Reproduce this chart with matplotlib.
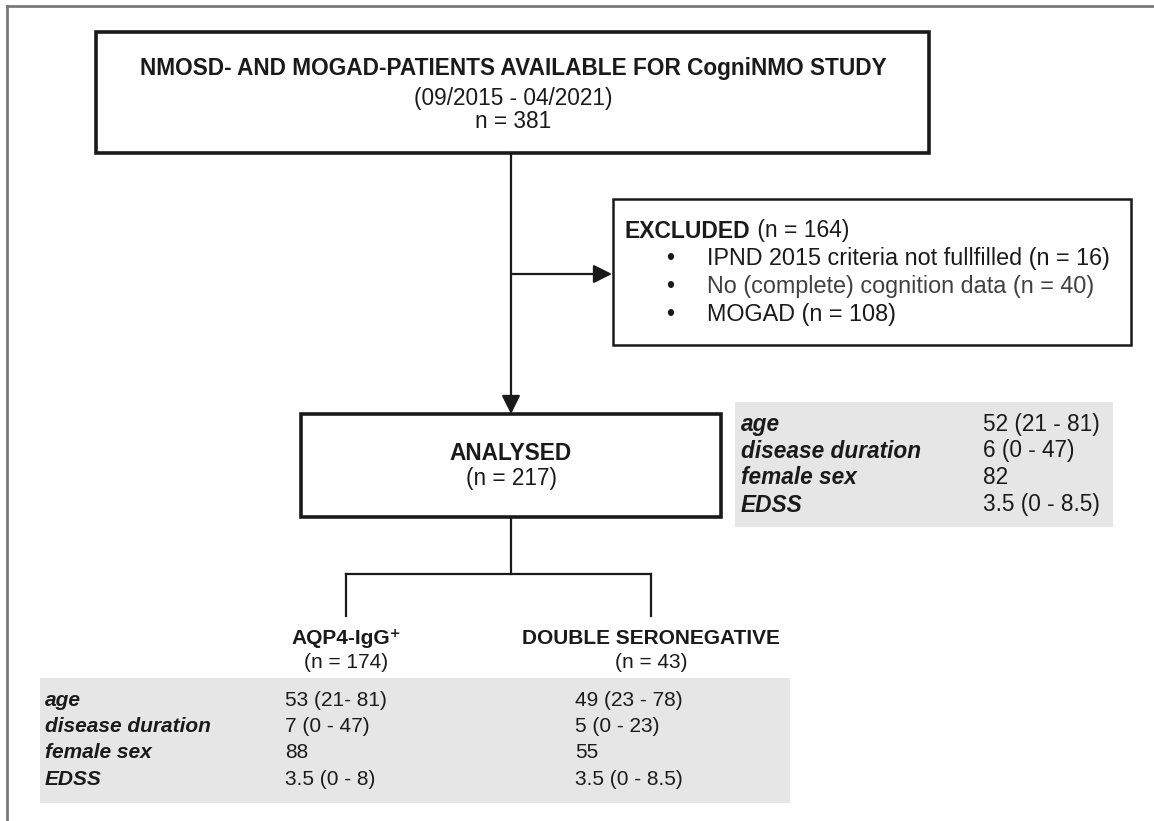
import matplotlib
matplotlib.use('Agg')
import matplotlib.pyplot as plt
from matplotlib.patches import Rectangle

# flow numbers
screened_title = 'NMOSD- AND MOGAD-PATIENTS AVAILABLE FOR CogniNMO STUDY'
screened_period = '(09/2015 - 04/2021)'
screened_n = 381
excluded_reasons = ['IPND 2015 criteria not fullfilled',
                    'No (complete) cognition data',
                    'MOGAD']
excluded_counts = [16, 40, 108]
analysed_n = 217
group_names = ['AQP4-IgG\u207a', 'DOUBLE SERONEGATIVE']
group_counts = [174, 43]

# baseline characteristics
char_labels = ['age', 'disease duration', 'female sex', 'EDSS']
char_all = ['52 (21 - 81)', '6 (0 - 47)', '82', '3.5 (0 - 8.5)']
char_aqp4 = ['53 (21- 81)', '7 (0 - 47)', '88', '3.5 (0 - 8)']
char_dn = ['49 (23 - 78)', '5 (0 - 23)', '55', '3.5 (0 - 8.5)']

plt.rcParams['font.family'] = ['Liberation Sans', 'DejaVu Sans']
FS = 16.3
FS_LOW = 15
INK = '#1a1a1a'
GREY = '#e6e6e6'

fig = plt.figure(figsize=(11.54, 8.21), dpi=100)
ax = fig.add_axes([0, 0, 1, 1])
ax.set_xlim(0, 1154)
ax.set_ylim(821, 0)
ax.axis('off')

# outer frame (top and left only)
ax.plot([7, 1154], [6, 6], color='#7a7a7a', lw=2)
ax.plot([7, 7], [6, 821], color='#7a7a7a', lw=2)

# top box
ax.add_patch(Rectangle((96, 32), 833, 121, fill=False, ec=INK, lw=2.6))
ax.text(513, 68, screened_title, ha='center', va='center',
        fontsize=FS, fontweight='bold', color=INK)
ax.text(513, 98, screened_period, ha='center', va='center', fontsize=FS, color=INK)
ax.text(513, 121, 'n = %d' % screened_n, ha='center', va='center', fontsize=FS, color=INK)

# arrows
arrow = dict(arrowstyle='-|>', color=INK, lw=1.6, mutation_scale=28,
             shrinkA=0, shrinkB=0)
ax.annotate('', xy=(511, 414), xytext=(511, 153), arrowprops=arrow)
ax.annotate('', xy=(612, 274), xytext=(511, 274), arrowprops=arrow)

# excluded box
ax.add_patch(Rectangle((613, 199), 518, 146, fill=False, ec=INK, lw=1.8))
t = ax.text(625, 231, 'EXCLUDED', ha='left', va='center', fontsize=16.5,
            fontweight='bold', color=INK)
fig.canvas.draw()
bb = t.get_window_extent().transformed(ax.transData.inverted())
ax.text(bb.x1, 231, ' (n = %d)' % sum(excluded_counts), ha='left', va='center',
        fontsize=16.5, color=INK)
ex_colors = [INK, '#404040', INK]
for i, (reason, cnt) in enumerate(zip(excluded_reasons, excluded_counts)):
    y = 259 + i * 27.5
    ax.text(670, y, '\u2022', ha='center', va='center', fontsize=16.5, color=INK)
    ax.text(707, y, '%s (n = %d)' % (reason, cnt), ha='left', va='center',
            fontsize=16.8, color=ex_colors[i])

# analysed box
ax.add_patch(Rectangle((301, 414), 420, 103, fill=False, ec=INK, lw=2.6))
ax.text(511, 453, 'ANALYSED', ha='center', va='center', fontsize=FS,
        fontweight='bold', color=INK)
ax.text(511, 479, '(n = %d)' % analysed_n, ha='center', va='center',
        fontsize=FS, color=INK)

# table for all analysed patients
ax.add_patch(Rectangle((735, 402), 378, 125, color=GREY, lw=0))
for i, (lab, val) in enumerate(zip(char_labels, char_all)):
    y = 424 + i * 27
    ax.text(741, y, lab, ha='left', va='center', fontsize=FS,
            fontweight='bold', fontstyle='italic', color=INK)
    ax.text(983, y, val, ha='left', va='center', fontsize=FS, color=INK)

# split into subgroups
group_x = [346, 651]
ax.plot([511, 511], [517, 574], color=INK, lw=1.6)
ax.plot(group_x, [574, 574], color=INK, lw=1.6)
for gx, name, cnt in zip(group_x, group_names, group_counts):
    ax.plot([gx, gx], [574, 616], color=INK, lw=1.6)
    ax.text(gx, 638, name, ha='center', va='center', fontsize=FS_LOW,
            fontweight='bold', color=INK)
    ax.text(gx, 662, '(n = %d)' % cnt, ha='center', va='center',
            fontsize=FS_LOW, color=INK)

# subgroup table
ax.add_patch(Rectangle((40, 678), 750, 125, color=GREY, lw=0))
for i, lab in enumerate(char_labels):
    y = 700 + i * 26.5
    ax.text(45, y, lab, ha='left', va='center', fontsize=FS_LOW,
            fontweight='bold', fontstyle='italic', color=INK)
    ax.text(285, y, char_aqp4[i], ha='left', va='center', fontsize=FS_LOW, color=INK)
    ax.text(575, y, char_dn[i], ha='left', va='center', fontsize=FS_LOW, color=INK)

fig.savefig('out.png', dpi=100, facecolor='white')
